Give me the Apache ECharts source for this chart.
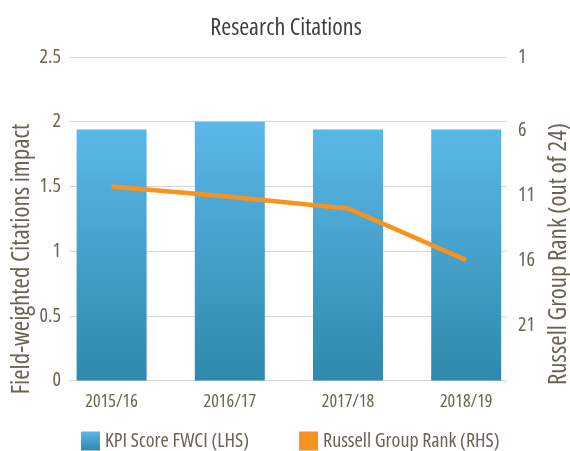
<!DOCTYPE html>
<html>
<head>
<meta charset="utf-8">
<script src="https://cdn.jsdelivr.net/npm/echarts@6/dist/echarts.min.js"></script>
<style>
  html, body { margin: 0; padding: 0; background: #fff; }
  #chart { width: 570px; height: 451px; }
</style>
</head>
<body>
<div id="chart"></div>
<script>
// data
const categories = ['2015/16', '2016/17', '2017/18', '2018/19'];
const fwciScores = [1.94, 2.0, 1.94, 1.94];
const groupRanks = [11, 11.8, 12.7, 16.7];
const rankTicks = [1, 6, 11, 16, 21];
const seriesNames = ['KPI Score FWCI (LHS)', 'Russell Group Rank (RHS)'];

// Open Sans in its condensed cut, asked for through the font shorthand
const FONT = '"Open Sans", sans-serif';
const STRETCH = 'condensed';
const TEXT = '#6b6352';
const GRID_LINE = '#d6d6d6';
const ORANGE = '#f7931e';

// rank axis runs 1..26 downwards; shifted by one so ticks start at 0
const rankOffset = 1;

const chart = echarts.init(document.getElementById('chart'));

function txt(size, color) {
    return { fontFamily: FONT, fontWeight: STRETCH, fontSize: size, color: color || TEXT };
}

const option = {
    animation: false,
    title: {
        text: 'Research Citations',
        left: 281,
        top: 11,
        textAlign: 'center',
        textStyle: txt(24, '#404040')
    },
    legend: {
        left: 76,
        top: 426,
        itemWidth: 19,
        itemHeight: 19,
        itemGap: 50,
        icon: 'rect',
        textStyle: txt(20),
        data: seriesNames
    },
    grid: [
        { left: 69, right: 63, top: 57, bottom: 70.5 },
        { left: 52.5, right: 44.7, top: 57, bottom: 70.5 }
    ],
    xAxis: [
        {
            gridIndex: 0, type: 'category', data: categories,
            axisLine: { lineStyle: { color: GRID_LINE, width: 1 } },
            axisTick: { show: false }, axisLabel: { show: false }
        },
        {
            gridIndex: 1, type: 'category', data: categories,
            axisLine: { show: false }, axisTick: { show: false },
            axisLabel: Object.assign({ margin: 12 }, txt(18))
        }
    ],
    yAxis: [
        {
            gridIndex: 0, type: 'value', position: 'left',
            min: 0, max: 2.5, interval: 0.5,
            axisLine: { show: false }, axisTick: { show: false },
            axisLabel: Object.assign({ margin: 8 }, txt(20)),
            splitLine: { lineStyle: { color: GRID_LINE, width: 1 } }
        },
        {
            gridIndex: 0, type: 'value', position: 'right', inverse: true,
            min: 0, max: 25, interval: 5,
            axisLine: { show: false }, axisTick: { show: false },
            splitLine: { show: false },
            axisLabel: Object.assign({
                margin: 11,
                formatter: function (v) {
                    const r = v + rankOffset;
                    if (rankTicks.indexOf(r) < 0) return '';
                    return r === rankTicks[0] ? String(r) : '{d|' + r + '}';
                },
                rich: { d: Object.assign({ padding: [18, 0, 0, 0] }, txt(20)) }
            }, txt(20))
        },
        { gridIndex: 1, type: 'value', min: 0, max: 2.5, show: false },
        { gridIndex: 1, type: 'value', min: 0, max: 25, inverse: true, show: false }
    ],
    graphic: [
        {
            type: 'text', x: 22, y: 259, rotation: Math.PI / 2,
            style: {
                text: 'Field-weighted Citations impact',
                font: STRETCH + ' 25px ' + FONT, fill: TEXT,
                align: 'center', verticalAlign: 'middle'
            }
        },
        {
            type: 'text', x: 559, y: 254, rotation: Math.PI / 2,
            style: {
                text: 'Russell Group Rank (out of 24)',
                font: STRETCH + ' 25px ' + FONT, fill: TEXT,
                align: 'center', verticalAlign: 'middle'
            }
        }
    ],
    series: [
        {
            name: seriesNames[0],
            type: 'bar',
            xAxisIndex: 1, yAxisIndex: 2,
            barWidth: 70,
            data: fwciScores,
            itemStyle: {
                color: new echarts.graphic.LinearGradient(0, 0, 0, 1, [
                    { offset: 0, color: '#5ab8e9' },
                    { offset: 1, color: '#2f89ab' }
                ])
            }
        },
        {
            name: seriesNames[1],
            type: 'line',
            xAxisIndex: 1, yAxisIndex: 3,
            symbol: 'none',
            z: 5,
            data: groupRanks.map(r => r - rankOffset),
            lineStyle: { color: ORANGE, width: 4.5 },
            itemStyle: { color: ORANGE }
        }
    ]
};

chart.setOption(option);
</script>
</body>
</html>
